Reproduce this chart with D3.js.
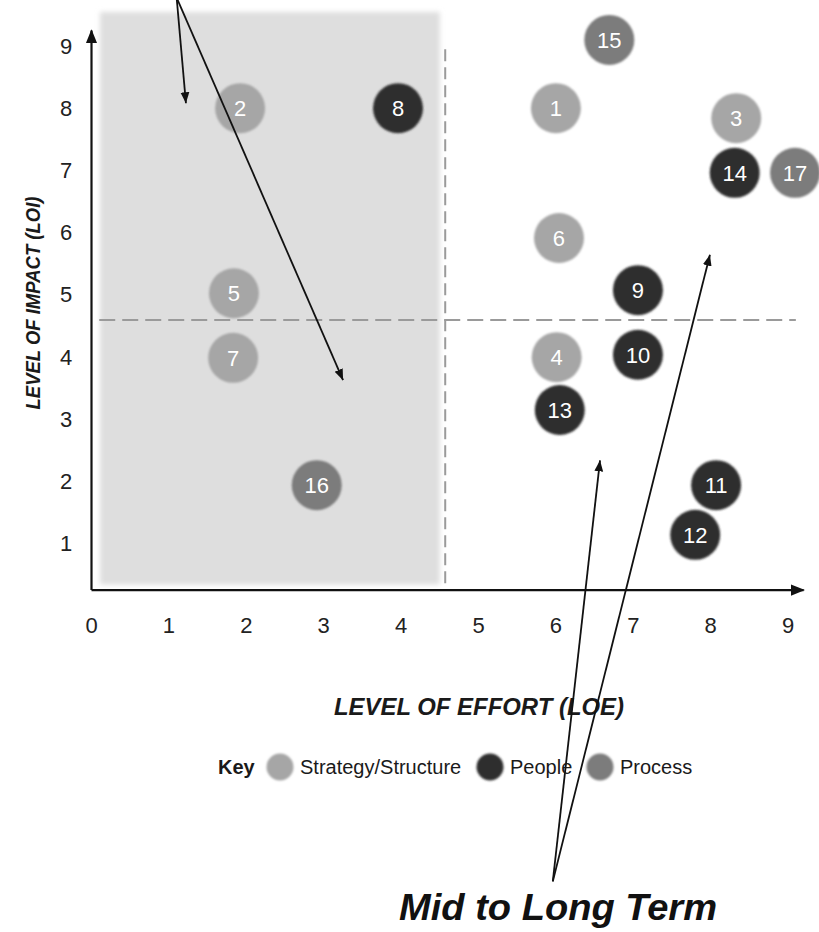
<!DOCTYPE html>
<html>
<head>
<meta charset="utf-8">
<script src="https://cdn.jsdelivr.net/npm/d3@7/dist/d3.min.js"></script>
<style>
  html, body { margin: 0; padding: 0; background: #fff; }
  svg { display: block; font-family: "Liberation Sans", Arial, Helvetica, sans-serif; }
</style>
</head>
<body>
<svg id="chart" width="819" height="932"></svg>
<script>
// Initiatives: id, level of effort (x), level of impact (y), category
const ids      = [1, 2, 3, 4, 5, 6, 7, 8, 9, 10, 11, 12, 13, 14, 15, 16, 17];
const effort   = [6.0, 1.92, 8.33, 6.01, 1.84, 6.04, 1.83, 3.96, 7.06, 7.06, 8.07, 7.8, 6.05, 8.31, 6.69, 2.91, 9.09];
const impact   = [8.0, 8.0, 7.84, 3.99, 5.02, 5.91, 3.98, 8.0, 5.07, 4.03, 1.93, 1.13, 3.14, 6.96, 9.1, 1.93, 6.96];
const category = ["Strategy/Structure", "Strategy/Structure", "Strategy/Structure", "Strategy/Structure",
                  "Strategy/Structure", "Strategy/Structure", "Strategy/Structure",
                  "People", "People", "People", "People", "People", "People", "People",
                  "Process", "Process", "Process"];

const categories = ["Strategy/Structure", "People", "Process"];
const catColors  = ["#a6a6a6", "#2f2f2f", "#7c7c7c"];
const xTicks = [0, 1, 2, 3, 4, 5, 6, 7, 8, 9];
const yTicks = [1, 2, 3, 4, 5, 6, 7, 8, 9];

// Quadrant thresholds and the shaded quick-win zone
const effortSplit = 4.57;
const impactSplit = 4.59;
const shadeZone = { x0: 0.11, x1: 4.5, y0: 0.33, y1: 9.55 };

// Annotation arrows (data units): [fromX, fromY, toX, toY]
const arrows = [
  [1.10, 9.78, 1.22, 8.08],
  [1.10, 9.78, 3.25, 3.62],
  [5.96, -4.45, 6.57, 2.33],
  [5.96, -4.45, 7.99, 5.64]
];

const svg = d3.select("#chart");
const x = d3.scaleLinear().domain([0, 9]).range([91.5, 788.1]);
const y = d3.scaleLinear().domain([0, 9]).range([605, 46.1]);
const color = d3.scaleOrdinal().domain(categories).range(catColors);

const defs = svg.append("defs");
defs.append("filter").attr("id", "soft").attr("x", "-10%").attr("y", "-10%").attr("width", "120%").attr("height", "120%")
  .append("feGaussianBlur").attr("stdDeviation", 2.5);
defs.append("filter").attr("id", "dotsoft")
  .append("feGaussianBlur").attr("stdDeviation", 0.8);
defs.append("marker").attr("id", "head").attr("viewBox", "0 0 10 10")
  .attr("refX", 10).attr("refY", 5).attr("markerWidth", 11).attr("markerHeight", 11)
  .attr("markerUnits", "userSpaceOnUse").attr("orient", "auto")
  .append("path").attr("d", "M0,1 L10,5 L0,9 Z").attr("fill", "#111");
defs.append("marker").attr("id", "axisHead").attr("viewBox", "0 0 10 10")
  .attr("refX", 9).attr("refY", 5).attr("markerWidth", 14).attr("markerHeight", 14)
  .attr("markerUnits", "userSpaceOnUse").attr("orient", "auto")
  .append("path").attr("d", "M0,1 L10,5 L0,9 Z").attr("fill", "#111");

// Shaded zone
svg.append("rect")
  .attr("x", x(shadeZone.x0)).attr("y", y(shadeZone.y1))
  .attr("width", x(shadeZone.x1) - x(shadeZone.x0))
  .attr("height", y(shadeZone.y0) - y(shadeZone.y1))
  .attr("fill", "#dedede")
  .attr("filter", "url(#soft)");

// Threshold lines
const axisY = y(0.24);
svg.append("line")
  .attr("x1", x(effortSplit)).attr("x2", x(effortSplit))
  .attr("y1", y(8.95)).attr("y2", axisY)
  .attr("stroke", "#9a9a9a").attr("stroke-width", 2).attr("stroke-dasharray", "12,6");
svg.append("line")
  .attr("x1", x(0.1)).attr("x2", x(9.1))
  .attr("y1", y(impactSplit)).attr("y2", y(impactSplit))
  .attr("stroke", "#9a9a9a").attr("stroke-width", 2).attr("stroke-dasharray", "16,7");

// Axes with arrowheads
svg.append("line")
  .attr("x1", x(0)).attr("y1", axisY).attr("x2", x(9.2)).attr("y2", axisY)
  .attr("stroke", "#111").attr("stroke-width", 2.2).attr("marker-end", "url(#axisHead)");
svg.append("line")
  .attr("x1", x(0)).attr("y1", axisY).attr("x2", x(0)).attr("y2", y(9.25))
  .attr("stroke", "#111").attr("stroke-width", 2.2).attr("marker-end", "url(#axisHead)");

// Tick labels
svg.append("g").selectAll("text").data(xTicks).join("text")
  .attr("x", d => x(d)).attr("y", 633)
  .attr("text-anchor", "middle").attr("font-size", 22).attr("fill", "#222")
  .text(d => d);
svg.append("g").selectAll("text").data(yTicks).join("text")
  .attr("x", 66).attr("y", d => y(d)).attr("dy", "0.36em")
  .attr("text-anchor", "middle").attr("font-size", 22).attr("fill", "#222")
  .text(d => d);

// Axis titles
svg.append("text")
  .attr("x", 479).attr("y", 715)
  .attr("text-anchor", "middle").attr("font-size", 23).attr("font-weight", "bold").attr("font-style", "italic")
  .attr("textLength", 290).attr("lengthAdjust", "spacingAndGlyphs")
  .attr("fill", "#1a1a1a")
  .text("LEVEL OF EFFORT (LOE)");
svg.append("text")
  .attr("transform", "translate(40,303) rotate(-90)")
  .attr("text-anchor", "middle").attr("font-size", 20).attr("font-weight", "bold").attr("font-style", "italic")
  .attr("textLength", 213).attr("lengthAdjust", "spacingAndGlyphs")
  .attr("fill", "#1a1a1a")
  .text("LEVEL OF IMPACT (LOI)");

// Data points
const points = ids.map((id, i) => ({ id, x: effort[i], y: impact[i], cat: category[i] }));
const g = svg.append("g").selectAll("g").data(points).join("g")
  .attr("transform", d => `translate(${x(d.x)},${y(d.y)})`);
g.append("circle").attr("r", 25).attr("fill", d => color(d.cat)).attr("filter", "url(#dotsoft)");
g.append("text")
  .attr("text-anchor", "middle").attr("dy", "0.36em")
  .attr("font-size", 22).attr("fill", "#fff")
  .text(d => d.id);

// Annotation arrows
svg.append("g").selectAll("line").data(arrows).join("line")
  .attr("x1", d => x(d[0])).attr("y1", d => y(d[1]))
  .attr("x2", d => x(d[2])).attr("y2", d => y(d[3]))
  .attr("stroke", "#111").attr("stroke-width", 1.8)
  .attr("marker-end", "url(#head)");

// Legend
const legend = svg.append("g").attr("transform", "translate(0,767)");
legend.append("text").attr("x", 218).attr("dy", "0.36em")
  .attr("font-size", 20).attr("font-weight", "bold").attr("fill", "#1a1a1a").text("Key");
const legendX = [280, 490, 600];
const items = legend.selectAll("g.item").data(categories).join("g").attr("class", "item")
  .attr("transform", (d, i) => `translate(${legendX[i]},0)`);
items.append("circle").attr("r", 13.5).attr("fill", d => color(d)).attr("filter", "url(#dotsoft)");
items.append("text").attr("x", 20).attr("dy", "0.36em")
  .attr("font-size", 20).attr("fill", "#1a1a1a").text(d => d);

// Callout caption
svg.append("text")
  .attr("x", 558).attr("y", 920)
  .attr("text-anchor", "middle").attr("font-size", 36).attr("font-weight", "bold").attr("font-style", "italic")
  .attr("textLength", 318).attr("lengthAdjust", "spacingAndGlyphs")
  .attr("fill", "#111")
  .text("Mid to Long Term");
</script>
</body>
</html>
